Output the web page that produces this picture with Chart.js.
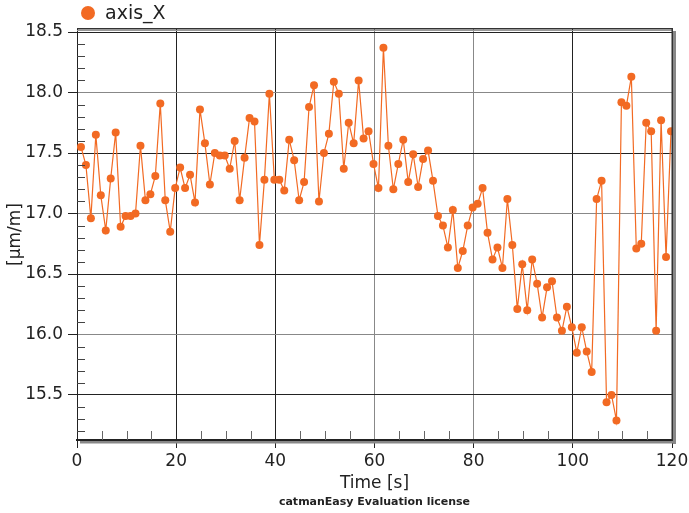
<!DOCTYPE html>
<html>
<head>
<meta charset="utf-8">
<script src="https://cdn.jsdelivr.net/npm/chart.js@4.4.1/dist/chart.umd.min.js"></script>
<style>
  body { margin: 0; background: #fff; }
  #wrap { width: 689px; height: 513px; }
</style>
</head>
<body>
<div id="wrap"><canvas id="chart" width="689" height="513"></canvas></div>
<script>
// measured values of axis_X, one sample per second
const axisX = [
  17.55, 17.40, 16.96, 17.65, 17.15, 16.86, 17.29, 17.67, 16.89, 16.98,
  16.98, 17.00, 17.56, 17.11, 17.16, 17.31, 17.91, 17.11, 16.85, 17.21,
  17.38, 17.21, 17.32, 17.09, 17.86, 17.58, 17.24, 17.50, 17.48, 17.48,
  17.37, 17.60, 17.11, 17.46, 17.79, 17.76, 16.74, 17.28, 17.99, 17.28,
  17.28, 17.19, 17.61, 17.44, 17.11, 17.26, 17.88, 18.06, 17.10, 17.50,
  17.66, 18.09, 17.99, 17.37, 17.75, 17.58, 18.10, 17.62, 17.68, 17.41,
  17.21, 18.37, 17.56, 17.20, 17.41, 17.61, 17.26, 17.49, 17.22, 17.45,
  17.52, 17.27, 16.98, 16.90, 16.72, 17.03, 16.55, 16.69, 16.90, 17.05,
  17.08, 17.21, 16.84, 16.62, 16.72, 16.55, 17.12, 16.74, 16.21, 16.58,
  16.20, 16.62, 16.42, 16.14, 16.39, 16.44, 16.14, 16.03, 16.23, 16.06,
  15.85, 16.06, 15.86, 15.69, 17.12, 17.27, 15.44, 15.50, 15.29, 17.92,
  17.89, 18.13, 16.71, 16.75, 17.75, 17.68, 16.03, 17.77, 16.64, 17.68
];
// time base of the recording (first sample at 0.8 s, 1 s interval)
const firstSample = 0.8;
const sampleInterval = 1;
const times = axisX.map((_, i) => firstSample + i * sampleInterval);

const seriesName = 'axis_X';
const xTitle = 'Time [s]';
const yTitle = '[µm/m]';
const licenseText = 'catmanEasy Evaluation license';
const yRange = [15.128, 18.525];
const xRange = [0, 120];

const orange = '#F26A23';
const font = 'DejaVu Sans';

// frame, minor ticks, legend and footer like catmanEasy draws them
const decor = {
  id: 'decor',
  afterDraw(chart) {
    const { ctx, chartArea: a, scales } = chart;
    ctx.save();
    // minor ticks on y (0.1) and x (5 s)
    ctx.lineWidth = 1;
    ctx.strokeStyle = '#444';
    for (let v = 152; v <= 185; v++) {
      if (v % 5 === 0) continue;
      const y = Math.round(scales.y.getPixelForValue(v / 10)) + 0.5;
      ctx.beginPath(); ctx.moveTo(a.left, y); ctx.lineTo(a.left + 8, y); ctx.stroke();
    }
    ctx.strokeStyle = '#666';
    for (let v = 5; v < 120; v += 5) {
      if (v % 20 === 0) continue;
      const x = Math.round(scales.x.getPixelForValue(v)) + 0.5;
      ctx.beginPath(); ctx.moveTo(x, a.bottom - 9); ctx.lineTo(x, a.bottom); ctx.stroke();
    }
    // top border and right border with shadow
    ctx.fillStyle = '#333';
    ctx.fillRect(a.left, a.top - 1, a.right - a.left, 1.5);
    ctx.fillStyle = '#999';
    ctx.fillRect(a.left, a.top + 1, a.right - a.left, 1);
    ctx.fillStyle = '#333';
    ctx.fillRect(a.right - 0.5, a.top - 1, 1.5, a.bottom - a.top + 2);
    ctx.fillStyle = '#888';
    ctx.fillRect(a.right + 1, a.top + 2, 3, a.bottom - a.top + 2);
    ctx.fillRect(a.left + 3, a.bottom + 1, a.right - a.left + 1, 2.5);
    // legend
    ctx.fillStyle = orange;
    ctx.beginPath(); ctx.arc(88, 13, 7, 0, Math.PI * 2); ctx.fill();
    ctx.fillStyle = '#222';
    ctx.font = '19px "' + font + '"';
    ctx.textBaseline = 'middle';
    ctx.textAlign = 'left';
    ctx.fillText(seriesName, 105, 14);
    // footer
    ctx.font = 'bold 11px "' + font + '"';
    ctx.textAlign = 'center';
    ctx.fillText(licenseText, (a.left + a.right) / 2, 502);
    ctx.restore();
  }
};

const ctx = document.getElementById('chart').getContext('2d');
new Chart(ctx, {
  type: 'line',
  data: {
    datasets: [{
      label: seriesName,
      data: times.map((t, i) => ({ x: t, y: axisX[i] })),
      borderColor: orange,
      backgroundColor: orange,
      borderWidth: 1.2,
      pointRadius: 4,
      pointBorderWidth: 0,
      pointBackgroundColor: orange,
      tension: 0
    }]
  },
  options: {
    responsive: false,
    animation: false,
    layout: { padding: { top: 29, right: 17, left: 0, bottom: 0 } },
    scales: {
      x: {
        type: 'linear',
        min: xRange[0],
        max: xRange[1],
        afterFit: s => { s.height = 73; s.paddingRight = 0; s.paddingLeft = 0; },
        ticks: {
          stepSize: 20,
          color: '#222',
          padding: 3,
          maxRotation: 0,
          font: { family: font, size: 17 }
        },
        grid: {
          color: c => ([60, 80].includes(c.tick && c.tick.value) ? '#888' : '#222'),
          tickColor: '#222',
          tickLength: 8
        },
        border: { color: '#222', width: 2 },
        title: {
          display: true,
          text: xTitle,
          color: '#222',
          font: { family: font, size: 17 },
          padding: { top: 0, bottom: 19 }
        }
      },
      y: {
        min: yRange[0],
        max: yRange[1],
        afterFit: s => { s.width = 77; },
        ticks: {
          stepSize: 0.5,
          includeBounds: false,
          color: '#222',
          padding: 5,
          font: { family: font, size: 17 },
          callback: v => v.toFixed(1)
        },
        grid: {
          color: c => (c.tick && Math.round(c.tick.value * 2) % 2 === 0 ? '#888' : '#222'),
          tickColor: '#222',
          tickLength: 9
        },
        border: { color: '#222', width: 1 },
        title: {
          display: true,
          text: yTitle,
          color: '#222',
          font: { family: font, size: 17 },
          padding: { top: 5, bottom: 4 }
        }
      }
    },
    plugins: {
      legend: { display: false },
      tooltip: { enabled: false }
    }
  },
  plugins: [decor]
});
</script>
</body>
</html>
